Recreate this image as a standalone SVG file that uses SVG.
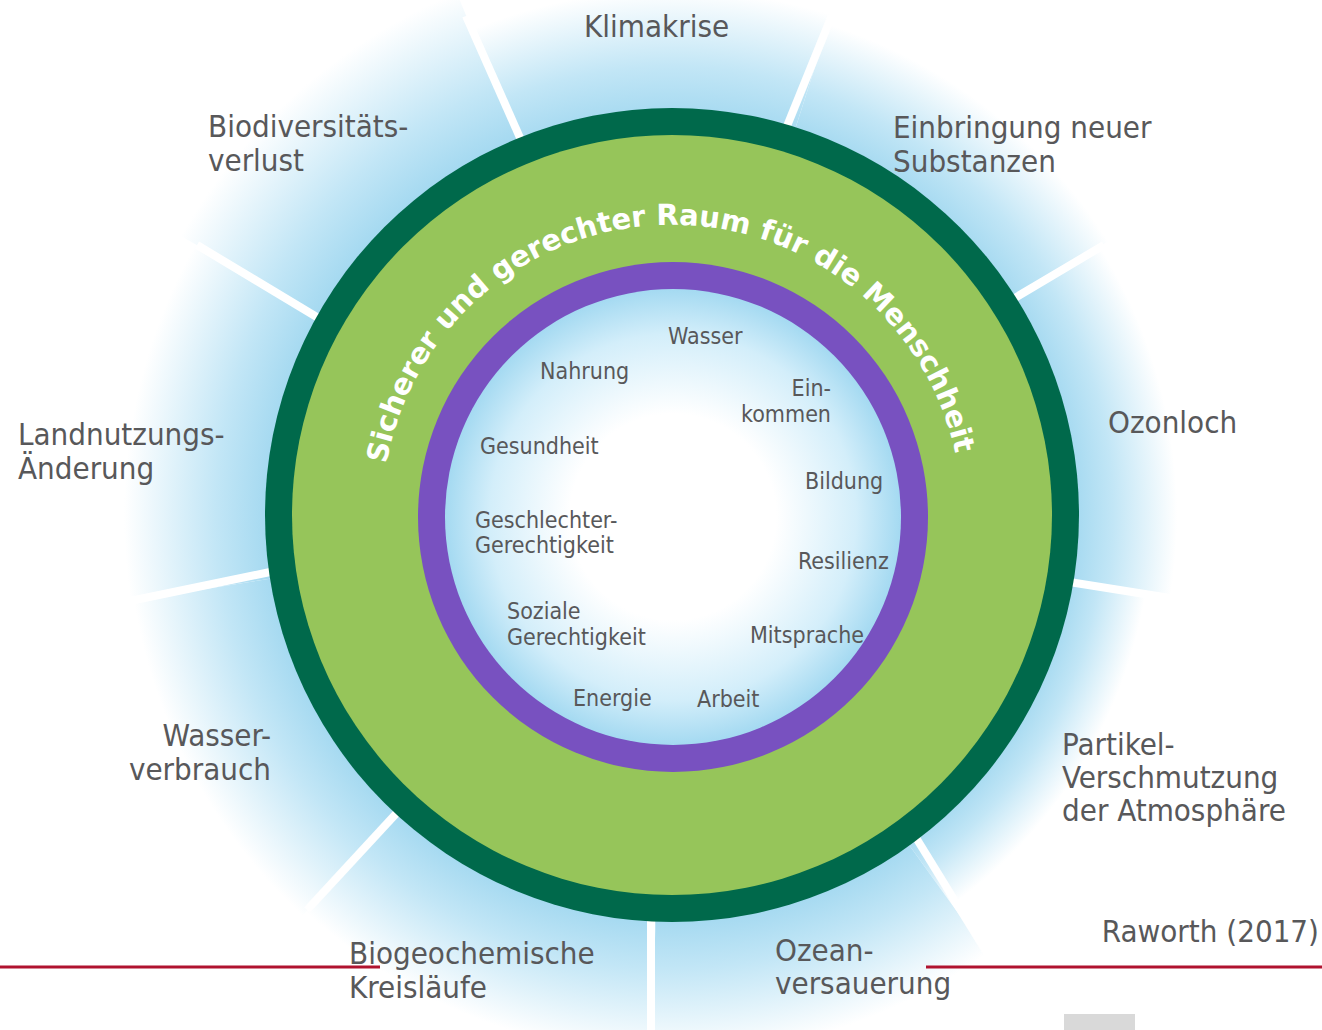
<svg xmlns="http://www.w3.org/2000/svg" width="1322" height="1030" viewBox="0 0 1322 1030">
<style>
.lbl{font-family:"DejaVu Sans Condensed","DejaVu Sans",sans-serif;font-stretch:condensed;fill:#58585a}
.out{font-size:31px}
.inn{font-size:23px}
.arc{font-family:"DejaVu Sans","Liberation Sans",sans-serif;font-weight:bold;font-size:29px;fill:#ffffff}
.sep{stroke:#ffffff;stroke-width:8;fill:none}
</style>
<defs>
<radialGradient id="h1" gradientUnits="userSpaceOnUse" cx="672" cy="515" r="525"><stop offset="0.75" stop-color="#a2d8f0"/><stop offset="0.854" stop-color="#c2e6f6"/><stop offset="1" stop-color="#ffffff"/></radialGradient>
<radialGradient id="h2" gradientUnits="userSpaceOnUse" cx="672" cy="515" r="515"><stop offset="0.77" stop-color="#a2d8f0"/><stop offset="0.864" stop-color="#c2e6f6"/><stop offset="1" stop-color="#ffffff"/></radialGradient>
<radialGradient id="h3" gradientUnits="userSpaceOnUse" cx="672" cy="515" r="505"><stop offset="0.79" stop-color="#a2d8f0"/><stop offset="0.874" stop-color="#c2e6f6"/><stop offset="1" stop-color="#ffffff"/></radialGradient>
<radialGradient id="h4" gradientUnits="userSpaceOnUse" cx="672" cy="515" r="480"><stop offset="0.83" stop-color="#a2d8f0"/><stop offset="0.9" stop-color="#c2e6f6"/><stop offset="1" stop-color="#ffffff"/></radialGradient>
<radialGradient id="h5" gradientUnits="userSpaceOnUse" cx="672" cy="515" r="540"><stop offset="0.74" stop-color="#a2d8f0"/><stop offset="0.84" stop-color="#c2e6f6"/><stop offset="1" stop-color="#ffffff"/></radialGradient>
<radialGradient id="h7" gradientUnits="userSpaceOnUse" cx="672" cy="515" r="545"><stop offset="0.734" stop-color="#a2d8f0"/><stop offset="0.835" stop-color="#c2e6f6"/><stop offset="1" stop-color="#ffffff"/></radialGradient>
<radialGradient id="h8" gradientUnits="userSpaceOnUse" cx="672" cy="515" r="548"><stop offset="0.73" stop-color="#a2d8f0"/><stop offset="0.833" stop-color="#c2e6f6"/><stop offset="1" stop-color="#ffffff"/></radialGradient>
<radialGradient id="h9" gradientUnits="userSpaceOnUse" cx="672" cy="515" r="565"><stop offset="0.71" stop-color="#a2d8f0"/><stop offset="0.818" stop-color="#c2e6f6"/><stop offset="1" stop-color="#ffffff"/></radialGradient>
<radialGradient id="core" gradientUnits="userSpaceOnUse" cx="673" cy="517" r="229"><stop offset="0" stop-color="#ffffff"/><stop offset="0.45" stop-color="#ffffff"/><stop offset="0.8" stop-color="#d3eefa"/><stop offset="1" stop-color="#a3d9f1"/></radialGradient>
<path id="arcPath" d="M 420.9 660 A 290 290 0 1 1 922.9 660"/>
</defs>
<rect width="1322" height="1030" fill="#ffffff"/>
<g id="halo">
<path d="M672,515 L405.2,-132.2 A700,700 0 0 1 884.8,-151.9 Z" fill="url(#h1)"/>
<path d="M672,515 L884.8,-151.9 A700,700 0 0 1 1265,143 Z" fill="url(#h2)"/>
<path d="M672,515 L1265,143 A700,700 0 0 1 1362.6,629.3 Z" fill="url(#h3)"/>
<path d="M672,515 L1362.6,629.3 A700,700 0 0 1 1080.5,1083.5 Z" fill="url(#h4)"/>
<path d="M672,515 L1080.5,1083.5 A700,700 0 0 1 643.9,1214.4 Z" fill="url(#h5)"/>
<path d="M672,515 L643.9,1214.4 A700,700 0 0 1 197.3,1029.4 Z" fill="url(#h5)"/>
<path d="M672,515 L197.3,1029.4 A700,700 0 0 1 -19.4,624.5 Z" fill="url(#h7)"/>
<path d="M672,515 L-19.4,624.5 A700,700 0 0 1 63.4,169.3 Z" fill="url(#h8)"/>
<path d="M672,515 L63.4,169.3 A700,700 0 0 1 405.2,-132.2 Z" fill="url(#h9)"/>
</g>
<g id="connectors">
<line class="sep" x1="525" y1="149" x2="466" y2="16"/>
<line class="sep" x1="783" y1="136" x2="832" y2="15"/>
<line class="sep" x1="1008" y1="302" x2="1104" y2="245"/>
<line class="sep" x1="1063" y1="581" x2="1170" y2="598"/>
<line class="sep" x1="910" y1="828" x2="992" y2="961"/>
<line class="sep" x1="651" y1="915" x2="651" y2="1030"/>
<line class="sep" x1="405" y1="804" x2="307" y2="910"/>
<line class="sep" x1="275" y1="571" x2="130" y2="601"/>
<line class="sep" x1="325" y1="322" x2="197" y2="245"/>
</g>
<g id="boundary">
<circle cx="672" cy="515" r="407" fill="#00694b"/>
</g>
<g id="safe-space">
<circle cx="672" cy="515" r="380" fill="#96c55a"/>
<text class="arc"><textPath href="#arcPath" startOffset="203">Sicherer</textPath></text>
<text class="arc"><textPath href="#arcPath" startOffset="350">und</textPath></text>
<text class="arc"><textPath href="#arcPath" startOffset="422">gerechter</textPath></text>
<text class="arc"><textPath href="#arcPath" startOffset="592">Raum</textPath></text>
<text class="arc"><textPath href="#arcPath" startOffset="695">für</textPath></text>
<text class="arc"><textPath href="#arcPath" startOffset="753">die</textPath></text>
<text class="arc"><textPath href="#arcPath" startOffset="813">Menschheit</textPath></text>
</g>
<g id="foundation">
<circle cx="673" cy="517" r="255" fill="#7851c0"/>
<circle cx="673" cy="517" r="228" fill="url(#core)"/>
</g>
<g id="footer">
<line x1="0" y1="967" x2="380" y2="967" stroke="#b0132f" stroke-width="3"/>
<line x1="926" y1="967" x2="1322" y2="967" stroke="#b0132f" stroke-width="3"/>
<rect x="1064" y="1014" width="71" height="16" fill="#d9d9d9"/>
</g>
<g id="outer-labels">
<g id="klimakrise"><text class="lbl out" x="584" y="37">Klimakrise</text></g>
<g id="einbringung"><text class="lbl out" x="893" y="138">Einbringung neuer</text><text class="lbl out" x="893" y="172">Substanzen</text></g>
<g id="ozonloch"><text class="lbl out" x="1108" y="433">Ozonloch</text></g>
<g id="partikel"><text class="lbl out" x="1062" y="755">Partikel-</text><text class="lbl out" x="1062" y="788">Verschmutzung</text><text class="lbl out" x="1062" y="821">der Atmosphäre</text></g>
<g id="ozean"><text class="lbl out" x="775" y="961">Ozean-</text><text class="lbl out" x="775" y="994">versauerung</text></g>
<g id="biogeo"><text class="lbl out" x="349" y="964">Biogeochemische</text><text class="lbl out" x="349" y="998">Kreisläufe</text></g>
<g id="wasserverbrauch"><text class="lbl out" x="271" y="746" text-anchor="end">Wasser-</text><text class="lbl out" x="271" y="780" text-anchor="end">verbrauch</text></g>
<g id="landnutzung"><text class="lbl out" x="18" y="445">Landnutzungs-</text><text class="lbl out" x="18" y="479">Änderung</text></g>
<g id="biodiversitaet"><text class="lbl out" x="208" y="137">Biodiversitäts-</text><text class="lbl out" x="208" y="171">verlust</text></g>
<g id="quelle"><text class="lbl out" x="1319" y="942" text-anchor="end">Raworth (2017)</text></g>
</g>
<g id="inner-labels">
<g id="wasser"><text class="lbl inn" x="668" y="344">Wasser</text></g>
<g id="nahrung"><text class="lbl inn" x="540" y="379">Nahrung</text></g>
<g id="einkommen"><text class="lbl inn" x="831" y="396" text-anchor="end">Ein-</text><text class="lbl inn" x="831" y="422" text-anchor="end">kommen</text></g>
<g id="gesundheit"><text class="lbl inn" x="480" y="454">Gesundheit</text></g>
<g id="bildung"><text class="lbl inn" x="805" y="489">Bildung</text></g>
<g id="geschlechter"><text class="lbl inn" x="475" y="528">Geschlechter-</text><text class="lbl inn" x="475" y="553">Gerechtigkeit</text></g>
<g id="resilienz"><text class="lbl inn" x="798" y="569">Resilienz</text></g>
<g id="soziale"><text class="lbl inn" x="507" y="619">Soziale</text><text class="lbl inn" x="507" y="645">Gerechtigkeit</text></g>
<g id="mitsprache"><text class="lbl inn" x="750" y="643">Mitsprache</text></g>
<g id="energie"><text class="lbl inn" x="573" y="706">Energie</text></g>
<g id="arbeit"><text class="lbl inn" x="697" y="707">Arbeit</text></g>
</g>
</svg>
